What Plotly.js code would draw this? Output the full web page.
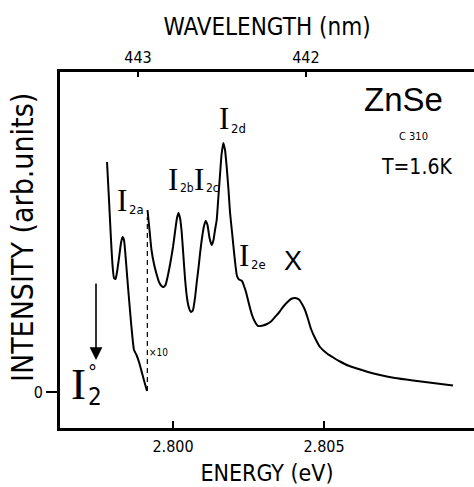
<!DOCTYPE html>
<html>
<head>
<meta charset="utf-8">
<script src="https://cdn.plot.ly/plotly-3.0.1.min.js"></script>
<style>html,body{margin:0;padding:0;background:#fff;}#chart{width:474px;height:487px;}</style>
</head>
<body>
<div id="chart"></div>
<script>
// ---- data ----
// low-energy part, recorded at x1
const seg1Energy = [2.797815, 2.797881, 2.797947, 2.797997, 2.798046, 2.798096, 2.798146, 2.798212, 2.798278, 2.798328,
  2.798377, 2.798444, 2.798510, 2.798609, 2.798709, 2.798791, 2.798874, 2.798974, 2.799073, 2.799139];
const seg1Intensity = [2.30, 1.92, 1.52, 1.27, 1.14, 1.13, 1.20, 1.34, 1.49, 1.55,
  1.52, 1.30, 1.05, 0.70, 0.42, 0.37, 0.30, 0.19, 0.08, 0.01];

// high-energy part, magnified x10
const seg2Energy = [2.799156, 2.799222, 2.799288, 2.799371, 2.799454, 2.799536, 2.799619, 2.799685, 2.799752, 2.799834,
  2.799917, 2.800000, 2.800066, 2.800132, 2.800182, 2.800232, 2.800281, 2.800331, 2.800397, 2.800464,
  2.800530, 2.800596, 2.800662, 2.800728, 2.800795, 2.800844, 2.800894, 2.800960, 2.801026, 2.801083,
  2.801142, 2.801209, 2.801281, 2.801341, 2.801391, 2.801447, 2.801507, 2.801556, 2.801606, 2.801666,
  2.801722, 2.801772, 2.801838, 2.801887, 2.801954, 2.802020, 2.802070, 2.802119, 2.802185, 2.802285,
  2.802351, 2.802417, 2.802483, 2.802550, 2.802616, 2.802699, 2.802815, 2.802980, 2.803113, 2.803245,
  2.803377, 2.803510, 2.803642, 2.803775, 2.803907, 2.804040, 2.804172, 2.804272, 2.804371, 2.804470,
  2.804570, 2.804702, 2.804868, 2.805099, 2.805331, 2.805530, 2.805795, 2.806093, 2.806457, 2.806854,
  2.807351, 2.807947, 2.808609, 2.809272];
const seg2Intensity = [1.82, 1.62, 1.42, 1.28, 1.18, 1.10, 1.06, 1.05, 1.07, 1.17,
  1.30, 1.45, 1.60, 1.74, 1.79, 1.74, 1.62, 1.42, 1.14, 0.94,
  0.84, 0.80, 0.82, 0.94, 1.12, 1.24, 1.38, 1.54, 1.66, 1.71,
  1.67, 1.54, 1.47, 1.52, 1.62, 1.72, 1.97, 2.17, 2.37, 2.49,
  2.42, 2.27, 2.02, 1.80, 1.60, 1.40, 1.26, 1.16, 1.125, 1.11,
  1.06, 1.00, 0.92, 0.84, 0.77, 0.71, 0.66, 0.665, 0.68, 0.705,
  0.75, 0.795, 0.85, 0.895, 0.93, 0.94, 0.925, 0.88, 0.82, 0.73,
  0.63, 0.54, 0.45, 0.385, 0.34, 0.305, 0.265, 0.235, 0.20, 0.17,
  0.14, 0.115, 0.09, 0.065];

// dashed joint between the two gains
const joinEnergy = [2.79915, 2.79915];
const joinIntensity = [0.01, 1.75];

// axes
const energyTicks = [2.800, 2.805];
const energyTickLabels = ['2.800', '2.805'];
const wavelengthTickEnergy = [2.79884, 2.80440];
const wavelengthTickLabels = ['443', '442'];
const intensityTicks = [0];
const intensityTickLabels = ['0'];

// arrow marking I2 zero-phonon position
const arrowEnergy = 2.79745;
const arrowTop = 1.10;
const arrowTip = 0.32;

// ---- drawing ----
const F = 'DejaVu Sans Condensed, Liberation Sans Narrow, sans-serif';
const SANS = 'Liberation Sans, Arial, sans-serif';
const SERIF = 'Liberation Serif, DejaVu Serif, serif';
const px = x => (x - 60) / 414;
const py = y => (428 - y) / 356;

const traces = [
  {x: seg1Energy, y: seg1Intensity, mode: 'lines', line: {color: '#000', width: 2, shape: 'spline', smoothing: 0.5}, hoverinfo: 'skip'},
  {x: seg2Energy, y: seg2Intensity, mode: 'lines', line: {color: '#000', width: 2, shape: 'spline', smoothing: 0.5}, hoverinfo: 'skip'},
  {x: joinEnergy, y: joinIntensity, mode: 'lines', line: {color: '#000', width: 1.2, dash: '5px,4px'}, hoverinfo: 'skip'},
  {x: wavelengthTickEnergy, y: [null, null], xaxis: 'x2', mode: 'lines', hoverinfo: 'skip'}
];

function lab(text, x, y, size, family, xa, ya, angle) {
  return {text: text, xref: 'paper', yref: 'paper', x: px(x), y: py(y), showarrow: false,
    xanchor: xa || 'center', yanchor: ya || 'middle', textangle: angle || 0, borderpad: 0,
    font: {family: family || F, size: size, color: '#000'}};
}

const annotations = [
  lab('INTENSITY (arb.units)', 22, 238, 30, F, 'center', 'middle', -90),
  lab('ZnSe', 403, 100, 33, SANS),
  lab('C 310', 413, 136, 11, F),
  lab('T=1.6K', 416, 167, 21, F),
  lab('X', 293, 261, 27, SANS),
  lab('×10', 158, 352, 10, F),
  // I labels (serif I + sans subscript)
  lab('I', 128, 200, 31, SERIF, 'right'), lab('2a', 128, 209, 13, F, 'left'),
  lab('I', 178.5, 179, 31, SERIF, 'right'), lab('2b', 178.5, 188, 12, F, 'left'),
  lab('I', 204.5, 179, 31, SERIF, 'right'), lab('2c', 204.5, 188, 12, F, 'left'),
  lab('I', 230, 118, 31, SERIF, 'right'), lab('2d', 230, 128, 13, F, 'left'),
  lab('I', 250, 255, 31, SERIF, 'right'), lab('2e', 250, 264, 13, F, 'left'),
  lab('I', 87, 384, 45, SERIF, 'right'), lab('°', 87, 372, 20, F, 'left'), lab('2', 87, 397, 24, F, 'left'),
  {x: arrowEnergy, y: arrowTip, ax: arrowEnergy, ay: arrowTop, xref: 'x', yref: 'y', axref: 'x', ayref: 'y',
   showarrow: true, arrowhead: 2, arrowsize: 1.6, arrowwidth: 1.6, arrowcolor: '#000', text: ''}
];

const layout = {
  width: 474, height: 487,
  margin: {l: 60, r: 0, t: 72, b: 59, pad: 0},
  paper_bgcolor: '#fff', plot_bgcolor: '#fff',
  showlegend: false,
  font: {family: F, color: '#000'},
  xaxis: {
    range: [2.796258, 2.809967], showgrid: false, zeroline: false,
    showline: true, linewidth: 3, linecolor: '#000',
    ticks: 'inside', ticklen: 7, tickwidth: 1.5, tickcolor: '#000',
    tickvals: energyTicks, ticktext: energyTickLabels, tickfont: {family: F, size: 16},
    ticklabelstandoff: 2,
    title: {text: 'ENERGY (eV)', font: {family: F, size: 23}, standoff: 10}
  },
  xaxis2: {
    overlaying: 'x', side: 'top', anchor: 'y', range: [2.796258, 2.809967],
    showgrid: false, zeroline: false,
    showline: true, linewidth: 3, linecolor: '#000',
    ticks: 'inside', ticklen: 5, tickwidth: 1.5, tickcolor: '#000',
    tickvals: wavelengthTickEnergy, ticktext: wavelengthTickLabels, tickfont: {family: F, size: 16},
    title: {text: 'WAVELENGTH (nm)', font: {family: F, size: 24}, standoff: 6}
  },
  yaxis: {
    range: [-0.36, 3.2], showgrid: false, zeroline: false,
    showline: true, linewidth: 3, linecolor: '#000',
    ticks: 'outside', ticklen: 11, tickwidth: 1.5, tickcolor: '#000',
    tickvals: intensityTicks, ticktext: intensityTickLabels, tickfont: {family: F, size: 16}
  },
  annotations: annotations
};

Plotly.newPlot('chart', traces, layout, {staticPlot: true, displayModeBar: false});
</script>
</body>
</html>
